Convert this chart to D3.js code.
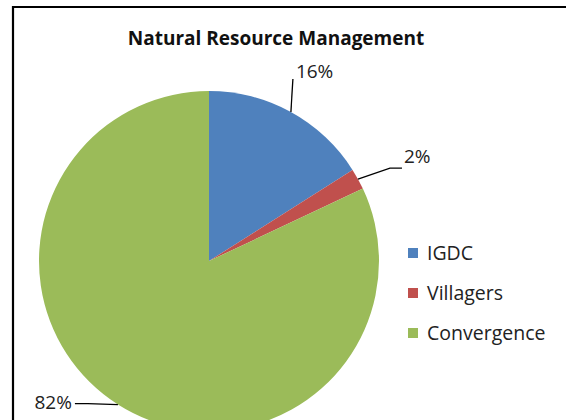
<!DOCTYPE html>
<html>
<head>
<meta charset="utf-8">
<script src="https://cdn.jsdelivr.net/npm/d3@7"></script>
<style>
  body { margin: 0; background: #fff; }
  svg { display: block; font-family: "Open Sans", "Noto Sans", sans-serif; }
</style>
</head>
<body>
<div id="chart"></div>
<script>
const categories = ["IGDC", "Villagers", "Convergence"];
const values = [16, 2, 82];
const percentLabels = ["16%", "2%", "82%"];
const colors = ["#4f81bd", "#c0504d", "#9bbb59"];

function createPieChart() {
    var width = 566;
    var height = 420;
    var radius = 170;
    var cx = 209, cy = 261;

    var data = categories.map((c, i) => ({name: c, value: values[i], label: percentLabels[i], color: colors[i]}));

    var svg = d3.select("#chart")
        .append("svg")
            .attr("width", width)
            .attr("height", height)
            .attr("viewBox", [0, 0, width, height]);

    // chart frame (only top and left edges are in view)
    svg.append("path")
        .attr("d", "M13,420V7H566")
        .attr("fill", "none")
        .attr("stroke", "#000")
        .attr("stroke-width", 2.2);

    svg.append("text")
        .attr("x", 276)
        .attr("y", 45)
        .attr("text-anchor", "middle")
        .attr("font-size", 19)
        .attr("font-weight", "bold")
        .attr("fill", "#111")
        .text("Natural Resource Management");

    var pie = d3.pie()
        .sort(null)
        .value(d => d.value);

    var arc = d3.arc()
        .innerRadius(0)
        .outerRadius(radius);

    var edge = d3.arc()
        .innerRadius(radius)
        .outerRadius(radius);

    var arcs = pie(data);

    var g = svg.append("g")
        .attr("transform", `translate(${cx},${cy})`);

    g.selectAll("path.slice")
        .data(arcs)
        .join("path")
            .attr("class", "slice")
            .attr("fill", d => d.data.color)
            .attr("d", arc);

    // leader lines and labels, offsets relative to the slice edge midpoint
    var offsets = [
        {bend: [2, -33], end: [2, -33], text: [5, -34], anchor: "start"},
        {bend: [32, -11], end: [44, -11], text: [46, -16], anchor: "start"},
        {bend: [-30, -1], end: [-43, -1], text: [-46, 4], anchor: "end"}
    ];

    arcs.forEach((d, i) => {
        var p = edge.centroid(d);
        var o = offsets[i];
        g.append("path")
            .attr("d", d3.line()([p, [p[0] + o.bend[0], p[1] + o.bend[1]], [p[0] + o.end[0], p[1] + o.end[1]]]))
            .attr("fill", "none")
            .attr("stroke", "#000")
            .attr("stroke-width", 1.3);
        g.append("text")
            .attr("x", p[0] + o.text[0])
            .attr("y", p[1] + o.text[1])
            .attr("text-anchor", o.anchor)
            .attr("font-size", 19)
            .attr("fill", "#222")
            .text(d.data.label);
    });

    var legend = svg.append("g")
        .attr("transform", "translate(408,248)");

    var row = legend.selectAll("g")
        .data(data)
        .join("g")
            .attr("transform", (d, i) => `translate(0,${i * 40})`);

    row.append("rect")
        .attr("width", 10)
        .attr("height", 10)
        .attr("fill", d => d.color);

    row.append("text")
        .attr("x", 19)
        .attr("y", 12)
        .attr("font-size", 19.5)
        .attr("fill", "#222")
        .text(d => d.name);
}

createPieChart();
</script>
</body>
</html>
